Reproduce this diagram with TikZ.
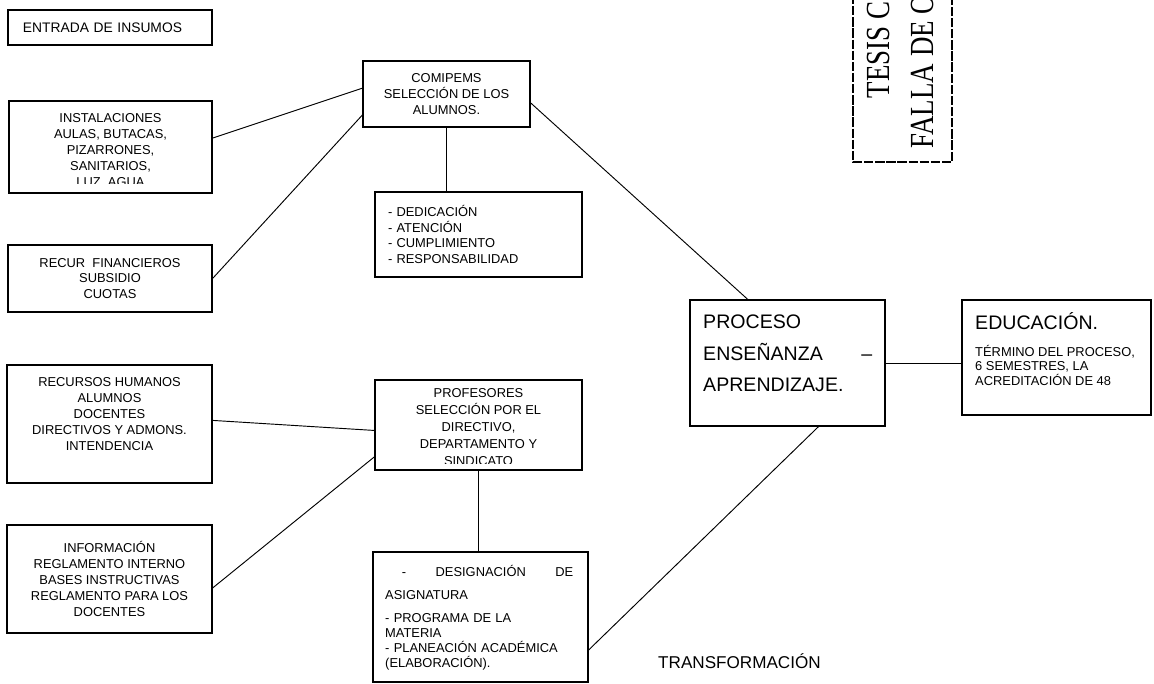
\documentclass[tikz,border=0pt]{standalone}
\usepackage{fontspec}
\setmainfont{Liberation Sans}
\newfontfamily\sellofont{Liberation Serif}
\usepackage{tikz}

\begin{document}
\begin{tikzpicture}[x=0.03cm,y=-0.03cm,
    caja/.style={draw, line width=1pt, inner sep=0pt},
    sz/.style 2 args={minimum width=#1*0.03cm, minimum height=#2*0.03cm},
    chico/.style={font=\fontsize{11}{13.6}\selectfont},
    grande/.style={font=\fontsize{16.7}{26.8}\selectfont},
    linea/.style={line width=0.8pt}]
    \useasboundingbox (0,0) rectangle (1154,684);

    \node[caja, sz={204}{35}, font=\fontsize{11.8}{13.6}\selectfont, text width=5.22cm, align=left] (entrada) at (110,27.5) {ENTRADA DE INSUMOS};

    \begin{scope}
        \clip (0,95) rectangle (220,183.5);
        \node[chico, align=center, anchor=north, inner sep=0pt] (instal-t) at (110.5,113.5) {INSTALACIONES\\AULAS, BUTACAS,\\PIZARRONES,\\SANITARIOS,\\LUZ, AGUA};
    \end{scope}
    \node[caja, sz={203}{92}] (instal) at (110.5,147) {};

    \node[caja, sz={204}{67}, chico, align=center] (recfin) at (110,278.5) {RECUR\ \ FINANCIEROS\\SUBSIDIO\\CUOTAS};

    \node[caja, sz={205}{118}] (rechum) at (109.5,424) {};
    \node[chico, align=center, anchor=north, inner sep=0pt] (rechum-t) at (109.5,377.5) {RECURSOS HUMANOS\\ALUMNOS\\DOCENTES\\DIRECTIVOS Y ADMONS.\\INTENDENCIA};

    \node[caja, sz={205}{108}, chico, align=center] (info) at (109.5,579) {INFORMACIÓN\\REGLAMENTO INTERNO\\BASES INSTRUCTIVAS\\REGLAMENTO PARA LOS\\DOCENTES};

    \node[caja, sz={167}{66}, chico, align=center] (comipems) at (446.5,94) {COMIPEMS\\SELECCIÓN DE LOS\\ALUMNOS.};
    \node[caja, sz={207}{85}, chico, text width=5.43cm, align=left] (dedic) at (478.5,234.5) {- DEDICACIÓN\\- ATENCIÓN\\- CUMPLIMIENTO\\- RESPONSABILIDAD};

    \begin{scope}
        \clip (370,375) rectangle (590,463);
        \node[font=\fontsize{11}{14.5}\selectfont, align=center, anchor=north, inner sep=0pt] (profes-t) at (478.5,388.5) {PROFESORES\\SELECCIÓN POR EL\\DIRECTIVO,\\DEPARTAMENTO Y\\SINDICATO};
    \end{scope}
    \node[caja, sz={207}{90}] (profes) at (478.5,425) {};

    \node[caja, sz={215}{130}] (design) at (480.5,617) {};
    \node[font=\fontsize{11}{12.75}\selectfont, text width=6cm, align=left, anchor=north west, inner sep=0pt] (design-t) at (385,565) {\makebox[5.64cm][l]{\hspace*{0.5cm}-\hfill DESIGNACIÓN\hfill DE}\\[7pt]ASIGNATURA\\[7pt]- PROGRAMA DE LA\\MATERIA\\- PLANEACIÓN ACADÉMICA\\(ELABORACIÓN).};

    \node[caja, sz={195}{126}] (proceso) at (787.5,363) {};
    \node[grande, align=left, anchor=north west, inner sep=0pt] (proceso-t) at (703,315) {PROCESO\\\makebox[5.07cm][l]{ENSEÑANZA\hfill –}\\APRENDIZAJE.};

    \node[caja, sz={189}{115}] (educ) at (1056.5,357.5) {};
    \node[font=\fontsize{16.7}{20}\selectfont, anchor=base west, inner sep=0pt] (educ-t) at (975,329) {EDUCACIÓN.};
    \node[font=\fontsize{11}{12}\selectfont, align=left, anchor=north west, inner sep=0pt] (educ-s) at (975,345.5) {TÉRMINO DEL PROCESO,\\6 SEMESTRES, LA\\ACREDITACIÓN DE 48};

    \node[font=\fontsize{14.6}{16}\selectfont, anchor=base west, inner sep=0pt] (transf) at (658,668) {TRANSFORMACIÓN};

    \draw[line width=1.2pt, dash pattern=on 8pt off 1.5pt] (853,-5) -- (853,162) -- (952,162) -- (952,-5);
    \node[font=\sellofont\fontsize{23}{30}\selectfont, rotate=90, inner sep=0pt] (sello) at (903,30.5) {\scalebox{1}[1.25]{\begin{tabular}{@{}c@{}}TESIS CON\\FALLA DE ORIGEN\end{tabular}}};

    \draw[linea] (instal.5) -- (comipems.176);
    \draw[linea] (recfin.east) -- (comipems.194);
    \draw[linea] (comipems.south) -- (comipems.south |- dedic.north);
    \draw[linea] (comipems.354) -- (proceso.122);
    \draw[linea] (rechum.2) -- (profes.183);
    \draw[linea] (info.355) -- (profes.197);
    \draw[linea] (profes.south) -- (profes.south |- design.north);
    \draw[linea] (design.343) -- (proceso.296);
    \draw[linea] (proceso.east) -- (proceso.east -| educ.west);
\end{tikzpicture}
\end{document}
